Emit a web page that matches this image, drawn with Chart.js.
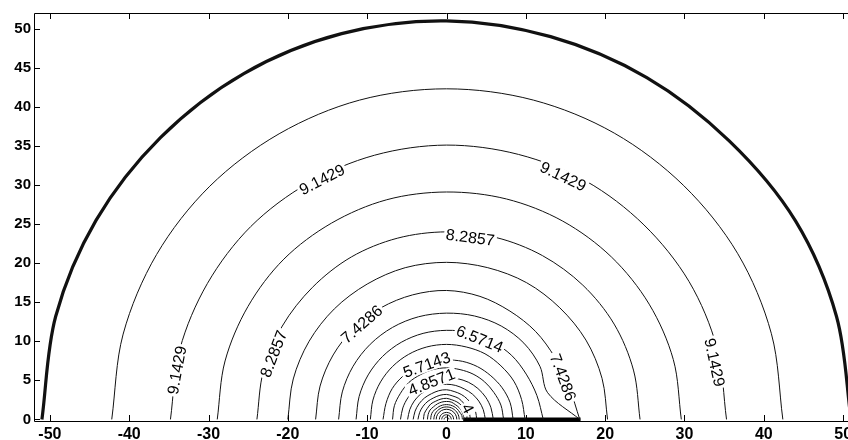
<!DOCTYPE html>
<html>
<head>
<meta charset="utf-8">
<script src="https://cdn.jsdelivr.net/npm/chart.js@4/dist/chart.umd.min.js"></script>
<style>
html, body { margin: 0; padding: 0; background: #fff; overflow: hidden; width: 848px; height: 440px; }
canvas { display: block; }
</style>
</head>
<body>
<canvas id="bieuDoDuongDongMuc" width="870" height="440"></canvas>
<script>
// Contour levels, outermost (thick boundary) first
const levels = [10, 9.5714, 9.1429, 8.7143, 8.2857, 7.8571, 7.4286, 7.0, 6.5714, 6.1429, 5.7143, 5.2857,
	4.8571, 4.4286, 4.0, 3.5714, 3.1429, 2.7143, 2.2857, 1.8571, 1.4286, 1.0, 0.5714, 0.1429]

const angles = [180, 165, 150, 135, 120, 105, 90, 75, 60, 45, 30, 15]

// Radius of every contour at those angles
const contourRadii = [
	[51.0, 51.0, 51.0, 51.0, 51.1, 51.1, 51.0, 50.7, 50.5, 50.4, 50.8, 50.9],
	[42.2, 42.2, 42.2, 42.2, 42.2, 42.3, 42.3, 42.3, 42.3, 42.3, 42.4, 42.4],
	[34.8, 34.8, 34.8, 34.9, 34.9, 35.0, 35.1, 35.1, 35.2, 35.2, 35.3, 35.3],
	[28.9, 28.9, 28.9, 29.0, 29.0, 29.1, 29.1, 29.2, 29.3, 29.4, 29.5, 29.6],
	[23.9, 23.9, 23.9, 23.9, 24.0, 24.0, 24.0, 24.1, 24.2, 24.3, 24.4, 24.4],
	[20.0, 20.0, 20.0, 20.0, 20.0, 20.1, 20.1, 20.1, 20.2, 20.2, 20.3, 20.3],
	[16.5, 16.5, 16.5, 16.5, 16.5, 16.5, 16.5, 16.3, 16.0, 15.9, 15.8, 16.0],
	[13.6, 13.6, 13.6, 13.6, 13.6, 13.6, 13.6, 13.7, 13.8, 13.8, 13.6, 13.2],
	[11.4, 11.4, 11.4, 11.4, 11.4, 11.4, 11.4, 11.5, 11.5, 11.6, 11.6, 11.8],
	[9.6, 9.6, 9.6, 9.6, 9.6, 9.6, 9.6, 9.6, 9.7, 9.7, 9.8, 9.8],
	[8.0, 7.9, 7.9, 7.8, 7.7, 7.6, 7.6, 7.7, 7.8, 7.9, 8.1, 8.3],
	[6.8, 6.8, 6.7, 6.7, 6.6, 6.6, 6.6, 6.6, 6.7, 6.8, 6.9, 7.1],
	[5.8, 5.7, 5.6, 5.5, 5.4, 5.4, 5.4, 5.4, 5.5, 5.6, 5.7, 5.8],
	[4.9, 4.8, 4.7, 4.6, 4.5, 4.5, 4.5, 4.5, 4.5, 4.6, 4.7, 4.8],
	[4.2, 4.1, 4.0, 3.9, 3.8, 3.8, 3.8, 3.7, 3.7, 3.7, 3.7, 3.8],
	[3.6, 3.5, 3.4, 3.3, 3.2, 3.2, 3.2, 3.1, 3.1, 3.0, 3.0, 3.0],
	[2.9, 2.9, 2.8, 2.8, 2.7, 2.7, 2.7, 2.6, 2.6, 2.6, 2.6, 2.6],
	[2.4, 2.4, 2.4, 2.3, 2.3, 2.3, 2.3, 2.3, 2.2, 2.2, 2.2, 2.2],
	[2.0, 2.0, 2.0, 1.9, 1.9, 1.9, 1.9, 1.9, 1.9, 1.9, 1.9, 2.0],
	[1.6, 1.6, 1.6, 1.6, 1.6, 1.6, 1.6, 1.6, 1.6, 1.6, 1.6, 1.6],
	[1.3, 1.3, 1.3, 1.3, 1.3, 1.3, 1.3, 1.3, 1.3, 1.3, 1.3, 1.3],
	[0.9, 0.9, 0.9, 0.9, 0.9, 0.9, 0.9, 0.9, 0.9, 0.9, 0.9, 0.9],
	[0.6, 0.6, 0.6, 0.6, 0.6, 0.6, 0.6, 0.6, 0.6, 0.6, 0.6, 0.6],
	[0.3, 0.3, 0.3, 0.3, 0.3, 0.3, 0.3, 0.3, 0.3, 0.3, 0.3, 0.3]
]

// Where each contour meets y = 0 on the right side
const rightEnds = [51.0, 42.4, 35.3, 29.6, 24.4, 20.3, 16.8, 16.8, 12.2, 9.9, 8.4, 7.2,
	5.9, 4.9, 3.8, 3.0, 2.6, 2.3, 2.0, 1.6, 1.3, 0.9, 0.6, 0.3]

// Crack on the x axis
const crackX = [2.1, 16.9]

// Inline contour labels
const labelText = ['9.1429', '9.1429', '8.2857', '9.1429', '8.2857', '7.4286', '6.5714', '7.4286', '5.7143', '4.8571', '4', '9.1429']
const labelX = [-15.7, 14.7, 3.0, -34.0, -21.8, -10.7, 4.2, 14.7, -2.5, -1.9, 2.7, 33.8]
const labelY = [30.7, 31.1, 23.3, 6.3, 8.4, 12.2, 10.3, 5.4, 7.0, 4.8, 1.4, 7.3]

// Tick labels
const xTicks = [-50, -40, -30, -20, -10, 0, 10, 20, 30, 40, 50]
const yTicks = [0, 5, 10, 15, 20, 25, 30, 35, 40, 45, 50]

const doRad = Math.PI / 180

// Build one line dataset per contour (polar readings -> x, y)
const datasets = levels.map((lv, i) => {
	const pts = angles.map((a, j) => ({
		x: contourRadii[i][j] * Math.cos(a * doRad),
		y: contourRadii[i][j] * Math.sin(a * doRad)
	}))
	pts.push({ x: rightEnds[i], y: 0 })
	return {
		label: String(lv),
		data: pts,
		showLine: true,
		pointRadius: 0,
		borderColor: '#111',
		borderWidth: i === 0 ? 3.2 : 1,
		tension: 0.33,
		fill: false
	}
})

datasets.push({
	label: 'crack',
	data: crackX.map(v => ({ x: v, y: 0 })),
	showLine: true,
	pointRadius: 0,
	borderColor: '#000',
	borderWidth: 4,
	clip: false
})

// Khung truc va vach chia huong vao trong
const khungTruc = {
	id: 'khungTruc',
	afterDraw(chart) {
		const { ctx, chartArea: a, scales: { x, y } } = chart
		ctx.save()
		ctx.strokeStyle = '#000'
		ctx.lineWidth = 1
		ctx.beginPath()
		ctx.moveTo(a.right, a.top + 0.5)
		ctx.lineTo(a.left + 0.5, a.top + 0.5)
		ctx.lineTo(a.left + 0.5, a.bottom + 0.5)
		ctx.lineTo(a.right, a.bottom + 0.5)
		xTicks.forEach(v => {
			const px = Math.round(x.getPixelForValue(v)) + 0.5
			ctx.moveTo(px, a.bottom)
			ctx.lineTo(px, a.bottom - 6)
			ctx.moveTo(px, a.top)
			ctx.lineTo(px, a.top + 6)
		})
		yTicks.forEach(v => {
			const py = Math.round(y.getPixelForValue(v)) + 0.5
			ctx.moveTo(a.left, py)
			ctx.lineTo(a.left + 6, py)
		})
		ctx.stroke()
		ctx.restore()
	}
}

// Nhan tren duong dong muc
const nhanDuong = {
	id: 'nhanDuong',
	afterDatasetsDraw(chart) {
		const { ctx, scales: { x, y } } = chart
		ctx.save()
		ctx.font = '16px "Liberation Sans", Arial, sans-serif'
		ctx.textAlign = 'center'
		ctx.textBaseline = 'middle'
		labelText.forEach((t, i) => {
			const px = x.getPixelForValue(labelX[i])
			const py = y.getPixelForValue(labelY[i])
			const theta = Math.atan2(labelY[i], labelX[i])
			const rot = Math.PI / 2 - theta
			const w = ctx.measureText(t).width
			ctx.save()
			ctx.translate(px, py)
			ctx.rotate(rot)
			ctx.fillStyle = '#fff'
			ctx.fillRect(-w / 2 - 2, -7, w + 4, 14)
			ctx.fillStyle = '#000'
			ctx.fillText(t, 0, 1)
			ctx.restore()
		})
		ctx.restore()
	}
}

const ctx = document.getElementById('bieuDoDuongDongMuc').getContext('2d')
new Chart(ctx, {
	type: 'scatter',
	data: { datasets: datasets },
	options: {
		responsive: false,
		animation: false,
		layout: { padding: { top: 13, right: 11, left: 0, bottom: 0 } },
		plugins: { legend: { display: false }, tooltip: { enabled: false } },
		scales: {
			x: {
				type: 'linear',
				min: -52,
				max: 52,
				grid: { display: false, drawTicks: false },
				border: { display: false },
				ticks: {
					color: '#000',
					font: { family: '"Liberation Sans", Arial, sans-serif', size: 16, weight: 'bold' },
					padding: 4,
					autoSkip: false,
					maxRotation: 0
				},
				afterBuildTicks: s => { s.ticks = xTicks.map(v => ({ value: v })) },
				afterFit: s => { s.height = 19; s.paddingLeft = 0; s.paddingRight = 0 }
			},
			y: {
				type: 'linear',
				min: -0.2,
				max: 52,
				grid: { display: false, drawTicks: false },
				border: { display: false },
				ticks: {
					color: '#000',
					font: { family: '"Liberation Sans", Arial, sans-serif', size: 15, weight: 'bold' },
					padding: 3,
					autoSkip: false
				},
				afterBuildTicks: s => { s.ticks = yTicks.map(v => ({ value: v })) },
				afterFit: s => { s.width = 34; s.paddingTop = 0; s.paddingBottom = 0 }
			}
		}
	},
	plugins: [khungTruc, nhanDuong]
})
</script>
</body>
</html>
